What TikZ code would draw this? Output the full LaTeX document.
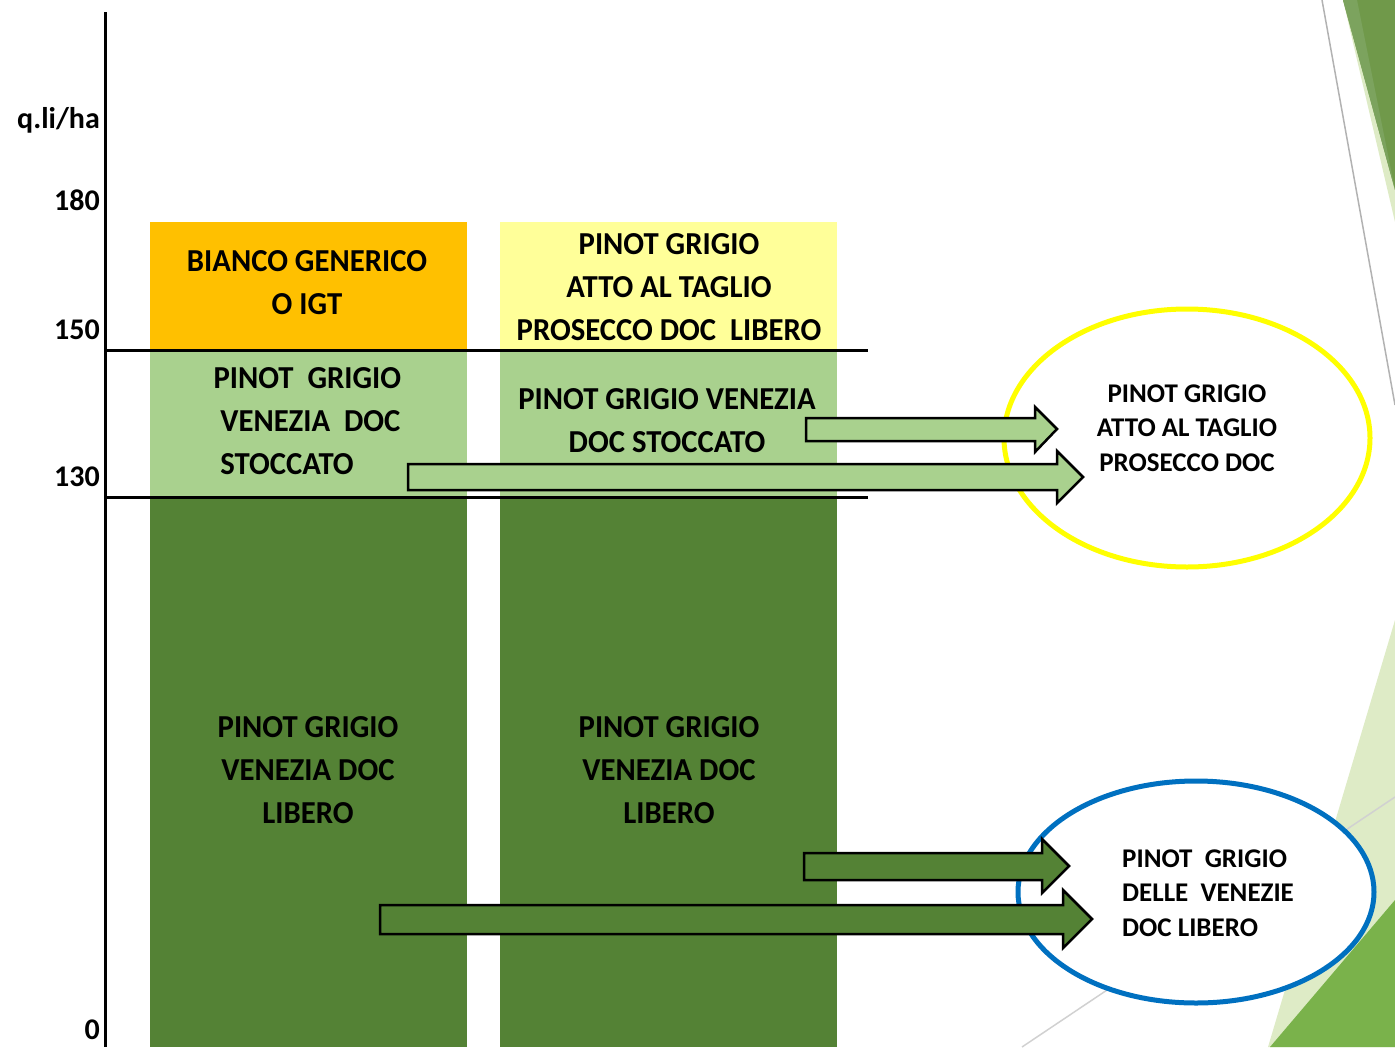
\documentclass[tikz,border=0pt]{standalone}
\usepackage{fontspec}
\setmainfont{Carlito}
\newfontfamily\barfont{Carlito}[FakeStretch=0.96]
\usetikzlibrary{shapes.geometric}

\definecolor{igtorange}{HTML}{FFC000}
\definecolor{tagliopale}{HTML}{FFFF99}
\definecolor{stockgreen}{HTML}{A9D18E}
\definecolor{liberogreen}{HTML}{548235}
\definecolor{ringblue}{HTML}{0070C0}
\definecolor{ringyellow}{HTML}{FFFF00}
\definecolor{facetdark}{HTML}{70994A}
\definecolor{facetband}{HTML}{7CA35E}
\definecolor{facetpale}{HTML}{DEEBC6}
\definecolor{facetbright}{HTML}{7AB24B}

\tikzset{
  bartext/.style={font=\barfont\bfseries\fontsize{32}{43}\selectfont, align=center},
  ticktext/.style={font=\bfseries\fontsize{30}{32}\selectfont, anchor=east, inner sep=0pt},
  ringtext/.style={font=\bfseries\fontsize{27}{34.5}\selectfont},
  blockarrow/.style={draw=black, line width=2.5pt, line join=miter}
}

\begin{document}
\begin{tikzpicture}[x=1pt,y=-1pt]
	\useasboundingbox (0,0) rectangle (1395,1047);

	% facets of the slide background
	\fill[facetpale] (1343,0) -- (1395,0) -- (1395,222) -- cycle;
	\fill[facetdark] (1343,0) -- (1395,0) -- (1395,190) -- cycle;
	\fill[facetband] (1343,0) -- (1357,0) -- (1395,190) -- cycle;
	\draw[black!30, line width=1.5pt] (1322,0) -- (1395,405);
	\fill[facetpale] (1395,620) -- (1268,1047) -- (1395,1047) -- cycle;
	\fill[facetbright] (1395,900) -- (1270,1047) -- (1395,1047) -- cycle;
	\draw[black!18, line width=1.5pt] (1022,1047) -- (1395,797);

	% bars
	\fill[igtorange] (150,222) rectangle (467,350);
	\fill[stockgreen] (150,350) rectangle (467,497);
	\fill[liberogreen] (150,497) rectangle (467,1047);
	\fill[tagliopale] (500,222) rectangle (837,350);
	\fill[stockgreen] (500,350) rectangle (837,497);
	\fill[liberogreen] (500,497) rectangle (837,1047);

	% axis and levels
	\draw[line width=3pt] (105,12) -- (105,1047);
	\draw[line width=3pt] (105,350) -- (868,350);
	\draw[line width=3pt] (105,497) -- (868,497);

	\node[ticktext] (unit) at (100,120) {q.li/ha};
	\node[ticktext] (t180) at (100,200) {180};
	\node[ticktext] (t150) at (100,330) {150};
	\node[ticktext] (t130) at (100,477) {130};
	\node[ticktext] (t0) at (100,1030) {0};

	% texts in the bars
	\node[bartext] (igt) at (307,283) {BIANCO GENERICO\\O IGT};
	\node[bartext] (taglio) at (669,287) {PINOT GRIGIO\\ATTO AL TAGLIO\\PROSECCO DOC\ \ LIBERO};
	\node[bartext, align=left, anchor=west] (stockA) at (210,421) {PINOT\ \ GRIGIO\\\ VENEZIA\ \ DOC\\\ STOCCATO};
	\node[bartext] (stockB) at (667,421) {PINOT GRIGIO VENEZIA\\DOC STOCCATO};
	\node[bartext] (liberoA) at (308,770) {PINOT GRIGIO\\VENEZIA DOC\\LIBERO};
	\node[bartext] (liberoB) at (669,770) {PINOT GRIGIO\\VENEZIA DOC\\LIBERO};

	% destinations
	\node[ellipse, draw=ringyellow, line width=5pt, fill=white, minimum width=366pt, minimum height=258pt] (atto) at (1187,438) {};
	\node[ringtext, align=center] (attotext) at (1187,428) {PINOT GRIGIO\\ATTO AL TAGLIO\\PROSECCO DOC};
	\node[ellipse, draw=ringblue, line width=5pt, fill=white, minimum width=356pt, minimum height=222pt] (delle) at (1196,892) {};
	\node[ringtext, align=left] (delletext) at (1208,893) {PINOT\ \ GRIGIO\\DELLE\ \ VENEZIE\\DOC LIBERO};

	% block arrows
	\draw[blockarrow, fill=stockgreen] (806,418) -- (1035,418) -- (1035,407) -- (1057,429) -- (1035,452) -- (1035,441) -- (806,441) -- cycle;
	\draw[blockarrow, fill=stockgreen] (408,464) -- (1057,464) -- (1057,451) -- (1083,477) -- (1057,503) -- (1057,490) -- (408,490) -- cycle;
	\draw[blockarrow, fill=liberogreen] (804,853) -- (1042,853) -- (1042,839) -- (1069,866) -- (1042,893) -- (1042,880) -- (804,880) -- cycle;
	\draw[blockarrow, fill=liberogreen] (380,905) -- (1063,905) -- (1063,890) -- (1092,919) -- (1063,948) -- (1063,934) -- (380,934) -- cycle;
\end{tikzpicture}
\end{document}
